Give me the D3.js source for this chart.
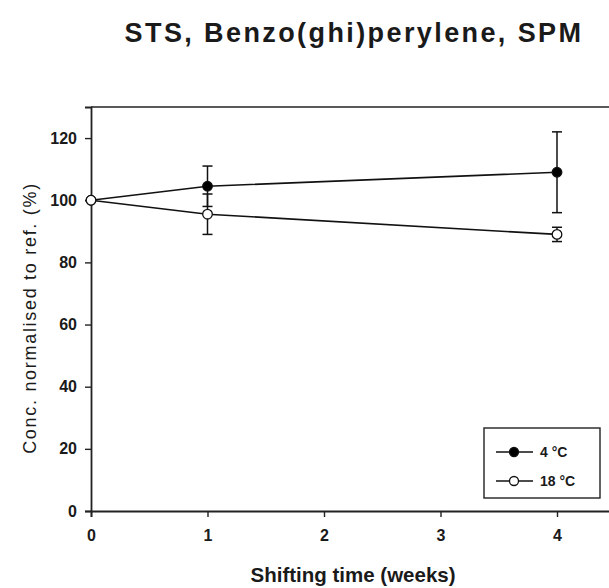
<!DOCTYPE html>
<html>
<head>
<meta charset="utf-8">
<script src="https://cdn.jsdelivr.net/npm/d3@7"></script>
<style>
  html, body { margin: 0; padding: 0; background: #fff; }
  svg { display: block; }
  text { font-family: "Liberation Sans", Arial, sans-serif; fill: #1a1a1a; }
</style>
</head>
<body>
<svg id="chart" width="609" height="588"></svg>
<script>
// Shifting time in weeks
const weeks = [0, 1, 4];
// Mean concentration, normalised to reference (%)
const cold = [100, 104.5, 109];      // 4 °C
const coldErr = [0, 6.5, 13];
const warm = [100, 95.5, 89];        // 18 °C
const warmErr = [0, 6.5, 2.3];
const seriesNames = ["4 \u00B0C", "18 \u00B0C"];
const xTicks = [0, 1, 2, 3, 4];
const yTicks = [0, 20, 40, 60, 80, 100, 120];

const svg = d3.select("#chart");
const plotLeft = 91, plotTop = 107, plotBottom = 511;

const x = d3.scaleLinear().domain([0, 4.5]).range([plotLeft, plotLeft + 4.5 * 116.5]);
const y = d3.scaleLinear().domain([0, 130]).range([plotBottom, plotTop]);

// Title
svg.append("text")
  .attr("x", 354).attr("y", 42)
  .attr("text-anchor", "middle")
  .attr("font-size", 27).attr("font-weight", "bold")
  .attr("letter-spacing", 2.4)
  .attr("fill", "#111")
  .text("STS, Benzo(ghi)perylene, SPM");

// Frame top line
svg.append("line")
  .attr("x1", x(0)).attr("x2", x(4.5))
  .attr("y1", y(130)).attr("y2", y(130))
  .attr("stroke", "#222").attr("stroke-width", 1.6);

// Axes
const xAxis = svg.append("g")
  .attr("transform", `translate(0,${y(0)})`)
  .call(d3.axisBottom(x).tickValues(xTicks).tickFormat(d3.format("d")).tickSizeOuter(0).tickSize(6).tickPadding(13));
const yAxis = svg.append("g")
  .attr("transform", `translate(${x(0)},0)`)
  .call(d3.axisLeft(y).tickValues(yTicks).tickSizeOuter(0).tickSize(6).tickPadding(8));

[xAxis, yAxis].forEach(g => {
  g.select(".domain").attr("stroke", "#222").attr("stroke-width", 1.8);
  g.selectAll(".tick line").attr("stroke", "#222").attr("stroke-width", 1.4);
  g.selectAll(".tick text")
    .attr("font-family", "Liberation Sans, Arial, sans-serif")
    .attr("font-size", 16).attr("font-weight", "bold").attr("fill", "#222");
});

// Axis titles
svg.append("text")
  .attr("x", 353).attr("y", 582)
  .attr("text-anchor", "middle")
  .attr("font-size", 20.5).attr("font-weight", "bold")
  .text("Shifting time (weeks)");

svg.append("text")
  .attr("transform", `translate(36,318) rotate(-90)`)
  .attr("text-anchor", "middle")
  .attr("font-size", 18)
  .attr("letter-spacing", 1.7)
  .text("Conc. normalised to ref. (%)");

const line = d3.line().x((d, i) => x(weeks[i])).y(d => y(d));

const series = [
  { values: cold, err: coldErr, fill: "#000" },
  { values: warm, err: warmErr, fill: "#fff" }
];

series.forEach(s => {
  const g = svg.append("g");
  g.append("path").datum(s.values)
    .attr("d", line).attr("fill", "none")
    .attr("stroke", "#111").attr("stroke-width", 1.6);
  // error bars
  s.values.forEach((v, i) => {
    if (!s.err[i]) return;
    const cx = x(weeks[i]);
    const y1 = y(v + s.err[i]), y2 = y(v - s.err[i]);
    g.append("line").attr("x1", cx).attr("x2", cx).attr("y1", y1).attr("y2", y2)
      .attr("stroke", "#111").attr("stroke-width", 1.5);
    [y1, y2].forEach(yy => g.append("line")
      .attr("x1", cx - 5).attr("x2", cx + 5).attr("y1", yy).attr("y2", yy)
      .attr("stroke", "#111").attr("stroke-width", 1.5));
  });
  g.selectAll("circle").data(s.values).join("circle")
    .attr("cx", (d, i) => x(weeks[i])).attr("cy", d => y(d))
    .attr("r", 4.8).attr("fill", s.fill)
    .attr("stroke", "#111").attr("stroke-width", 1.3);
});

// Legend
const lg = svg.append("g").attr("transform", "translate(484,428)");
lg.append("rect").attr("width", 116).attr("height", 70)
  .attr("fill", "#fff").attr("stroke", "#222").attr("stroke-width", 1.4);
series.forEach((s, i) => {
  const yy = 24 + i * 29;
  lg.append("line").attr("x1", 12).attr("x2", 49).attr("y1", yy).attr("y2", yy)
    .attr("stroke", "#111").attr("stroke-width", 1.5);
  lg.append("circle").attr("cx", 30).attr("cy", yy).attr("r", 4.5)
    .attr("fill", s.fill).attr("stroke", "#111").attr("stroke-width", 1.3);
  lg.append("text").attr("x", 56).attr("y", yy + 5)
    .attr("font-size", 14).attr("font-weight", "bold").attr("fill", "#222")
    .text(seriesNames[i]);
});
</script>
</body>
</html>
